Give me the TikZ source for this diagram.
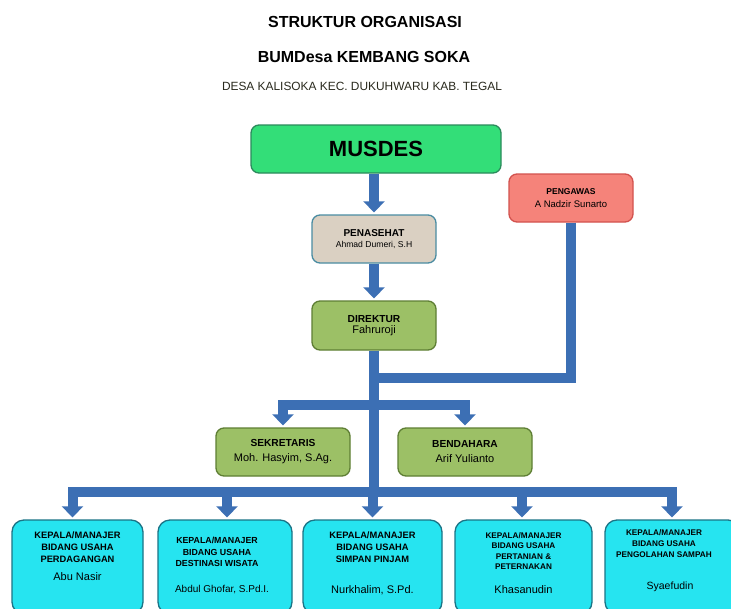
\documentclass[tikz,border=0pt]{standalone}
\usepackage{fontspec}
\setmainfont{Liberation Sans}
\usetikzlibrary{arrows.meta}
\definecolor{conn}{HTML}{3C6FB4}
\definecolor{musfill}{HTML}{33DE78}
\definecolor{musdraw}{HTML}{2B8A5C}
\definecolor{penfill}{HTML}{DAD0C2}
\definecolor{pendraw}{HTML}{4A8CA2}
\definecolor{pgwfill}{HTML}{F5837A}
\definecolor{pgwdraw}{HTML}{D2524E}
\definecolor{olvfill}{HTML}{9CC066}
\definecolor{olvdraw}{HTML}{5E7E34}
\definecolor{cyfill}{HTML}{26E4F0}
\definecolor{cydraw}{HTML}{1B7486}
\definecolor{subtxt}{HTML}{2A2A1E}
\begin{document}
\begin{tikzpicture}[x=1pt,y=-1pt,
  box/.style={draw, line width=1.3pt, rounded corners=8pt, align=center, inner sep=0pt},
  topbox/.style={box, minimum width=124pt, minimum height=48pt},
  midbox/.style={box, fill=olvfill, draw=olvdraw, minimum width=134pt, minimum height=48pt},
  botbox/.style={box, fill=cyfill, draw=cydraw, rounded corners=12pt, minimum height=94pt},
  head/.style={align=center, inner sep=0pt, font=\bfseries\fontsize{9.3}{11.8}\selectfont},
  nm/.style={inner sep=0pt, font=\fontsize{11}{12}\selectfont},
  bar/.style={draw=conn, line width=10pt},
  arr/.style={bar, -{Triangle[width=21pt,length=11pt]}, shorten >=2pt}]
\path[use as bounding box] (0,0) rectangle (731,608);
\clip (0,0) rectangle (731,608);
\fill[white] (0,0) rectangle (731,608);

% titles
\node[font=\bfseries\fontsize{16}{19}\selectfont] (t1) at (365,22) {STRUKTUR ORGANISASI};
\node[font=\bfseries\fontsize{16}{19}\selectfont] (t2) at (364,57) {BUMDesa KEMBANG SOKA};
\node[font=\fontsize{11.9}{14}\selectfont, text=subtxt] (t3) at (362,86) {DESA KALISOKA KEC. DUKUHWARU KAB. TEGAL};

% boxes
\node[box, fill=musfill, draw=musdraw, minimum width=250pt, minimum height=48pt,
      font=\bfseries\fontsize{22}{24}\selectfont] (musdes) at (376,149) {MUSDES};
\node[topbox, fill=penfill, draw=pendraw] (penasehat) at (374,239)
  {{\bfseries\fontsize{10}{11}\selectfont PENASEHAT}\\[-1pt]{\fontsize{8.6}{9}\selectfont Ahmad Dumeri, S.H}};
\node[topbox, fill=pgwfill, draw=pgwdraw] (pengawas) at (571,198)
  {{\bfseries\fontsize{8.5}{9}\selectfont PENGAWAS}\\[1pt]{\fontsize{9.5}{10}\selectfont A Nadzir Sunarto}};
\node[topbox, fill=olvfill, draw=olvdraw, minimum height=49pt] (direktur) at (374,325.5)
  {{\bfseries\fontsize{10.2}{11}\selectfont DIREKTUR}\\[-1pt]{\fontsize{11}{12}\selectfont Fahruroji}};
\node[midbox] (sekretaris) at (283,452)
  {{\bfseries\fontsize{10.2}{12}\selectfont SEKRETARIS}\\[3pt]{\fontsize{11}{12}\selectfont Moh. Hasyim, S.Ag.}};
\node[midbox] (bendahara) at (465,452)
  {{\bfseries\fontsize{10.2}{12}\selectfont BENDAHARA}\\[3pt]{\fontsize{11}{12}\selectfont Arif Yulianto}};

% bottom row
\node[botbox, minimum width=131pt] (b1) at (77.5,567) {};
\node[botbox, minimum width=134pt] (b2) at (225,567) {};
\node[botbox, minimum width=139pt] (b3) at (372.5,567) {};
\node[botbox, minimum width=137pt] (b4) at (523.5,567) {};
\node[botbox, minimum width=135pt] (b5) at (672.5,567) {};

\node[head] (h1) at (77.5,547) {KEPALA/MANAJER\\BIDANG USAHA\\PERDAGANGAN};
\node[head, font=\bfseries\fontsize{8.8}{11.5}\selectfont] (h2) at (217,552) {KEPALA/MANAJER\\BIDANG USAHA\\DESTINASI WISATA};
\node[head] (h3) at (372.5,547) {KEPALA/MANAJER\\BIDANG USAHA\\SIMPAN PINJAM};
\node[head, font=\bfseries\fontsize{8.2}{10.6}\selectfont] (h4) at (523.5,551) {KEPALA/MANAJER\\BIDANG USAHA\\PERTANIAN \&\\PETERNAKAN};
\node[head, font=\bfseries\fontsize{8.2}{11}\selectfont] (h5) at (664,544) {KEPALA/MANAJER\\BIDANG USAHA\\PENGOLAHAN SAMPAH};

\node[nm] (n1) at (77.5,577) {Abu Nasir};
\node[nm, font=\fontsize{10}{11}\selectfont] (n2) at (222,590) {Abdul Ghofar, S.Pd.I.};
\node[nm] (n3) at (372.5,590) {Nurkhalim, S.Pd.};
\node[nm] (n4) at (523.5,590) {Khasanudin};
\node[nm, font=\fontsize{10.5}{12}\selectfont] (n5) at (670,587) {Syaefudin};

% junction coordinates
\coordinate (jP) at (374,378);
\coordinate (jS) at (374,405);
\coordinate (jB) at (374,492);

% connectors
\draw[arr] (musdes.south -| penasehat.north) -- (penasehat.north);
\draw[arr] (penasehat.south) -- (direktur.north);
\draw[bar] (pengawas.south) |- (jP);
\draw[bar] (direktur.south) -- (jB);
\draw[arr] (jS) -| (sekretaris.north);
\draw[arr] (jS) -| (bendahara.north);
\draw[arr] (jB) -| ([xshift=-5pt]b1.north);
\draw[arr] (jB) -| ([xshift=2pt]b2.north);
\draw[arr] (jB) -| (b3.north);
\draw[arr] (jB) -| ([xshift=-1.5pt]b4.north);
\draw[arr] (jB) -| ([xshift=-0.5pt]b5.north);
\end{tikzpicture}
\end{document}
